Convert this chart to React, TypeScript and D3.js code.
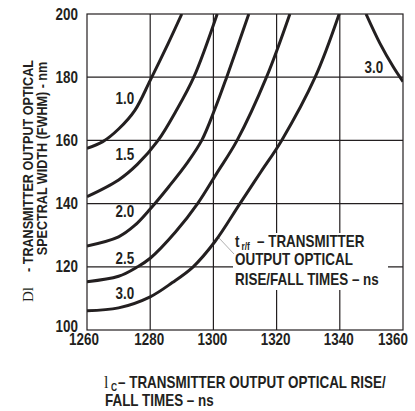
import React from "react";
import * as d3 from "d3";

// wavelength (nm) vs spectral width (nm), one array per rise/fall time
const curve10: [number, number][] = [
  [1260, 157.5], [1265, 159.6], [1270, 163.6], [1275.2, 169.6], [1280, 179], [1285.7, 190.7], [1290, 200],
];
const curve15: [number, number][] = [
  [1260, 142.2], [1270, 147.5], [1276, 152.5], [1282.5, 160], [1288, 169], [1293.8, 180], [1301.2, 200],
];
const curve20: [number, number][] = [
  [1260, 126.6], [1270, 129.5], [1275, 133], [1280, 138.3], [1286, 145.5], [1292, 153.3], [1296.3, 160], [1300.5, 170], [1304.2, 180], [1311.2, 200],
];
const curve25: [number, number][] = [
  [1260, 115.3], [1270, 117], [1276, 120], [1280, 122.7], [1288, 131], [1295, 140], [1301, 149.5], [1307.5, 160], [1316.8, 180], [1324.2, 200],
];
const curve30: [number, number][] = [
  [1260, 106.1], [1270, 107], [1280, 110.5], [1287, 115], [1293.6, 120], [1300.5, 128], [1308.4, 140], [1315, 150], [1321.6, 160], [1332.2, 180], [1339.8, 200],
];
const curve30b: [number, number][] = [
  [1348.3, 200], [1352.7, 190.7], [1356.9, 183.3], [1360, 178.6],
];

const curves = [curve10, curve15, curve20, curve25, curve30, curve30b];
const curveNames = ["1.0", "1.5", "2.0", "2.5", "3.0", "3.0"];
// label anchor points in data units
const labelX = [1272, 1272, 1272, 1272, 1272, 1350.8];
const labelY = [173.4, 155.4, 137.4, 122.7, 111.6, 183.2];

const xTicks = [1260, 1280, 1300, 1320, 1340, 1360];
const yTicks = [100, 120, 140, 160, 180, 200];

const ink = "#231f20";
const sans = "'Liberation Sans', Arial, sans-serif";
const serif = "'Liberation Serif', 'DejaVu Serif', serif";

// condensed bold text: Liberation Sans Bold squeezed horizontally
function NT(props: {
  x: number;
  y: number;
  size?: number;
  anchor?: "start" | "middle" | "end";
  rotate?: boolean;
  children: React.ReactNode;
}) {
  const { x, y, size = 16, anchor = "start", rotate = false, children } = props;
  return (
    <text
      transform={`translate(${x},${y})${rotate ? " rotate(-90)" : ""} scale(0.84,1)`}
      textAnchor={anchor}
      fontFamily={sans}
      fontWeight="bold"
      fontSize={size}
      fill={ink}
    >
      {children}
    </text>
  );
}

export default function App() {
  const width = 415;
  const height = 411;
  const x = d3.scaleLinear().domain([1260, 1360]).range([87, 403]);
  const y = d3.scaleLinear().domain([100, 200]).range([330, 14]);

  const line = d3
    .line<[number, number]>()
    .x((d) => x(d[0]))
    .y((d) => y(d[1]))
    .curve(d3.curveCatmullRom.alpha(0.5));

  const [x0, x1] = x.range();
  const [y0, y1] = y.range();

  return (
    <svg
      width={width}
      height={height}
      style={{ position: "absolute", left: 0, top: 0, background: "#fff" }}
    >
      <defs>
        <clipPath id="plot">
          <rect x={x0} y={y1} width={x1 - x0} height={y0 - y1} />
        </clipPath>
      </defs>

      {/* grid */}
      {xTicks.slice(1, -1).map((t) => (
        <line key={"gx" + t} x1={x(t)} x2={x(t)} y1={y1} y2={y0} stroke={ink} strokeWidth={1.2} />
      ))}
      {yTicks.slice(1, -1).map((t) => (
        <line key={"gy" + t} x1={x0} x2={x1} y1={y(t)} y2={y(t)} stroke={ink} strokeWidth={1.2} />
      ))}

      {/* white box behind the annotation */}
      <rect x={233} y={233} width={155} height={57} fill="#fff" />

      <rect x={x0} y={y1} width={x1 - x0} height={y0 - y1} fill="none" stroke={ink} strokeWidth={1.2} />

      {/* leader line */}
      <line x1={219} y1={238} x2={234} y2={254} stroke="#b0b0b0" strokeWidth={1} />

      <g clipPath="url(#plot)">
        {curves.map((c, i) => (
          <path key={i} d={line(c) ?? ""} fill="none" stroke={ink} strokeWidth={3} />
        ))}
      </g>

      {curveNames.map((n, i) => (
        <NT key={"l" + i} x={x(labelX[i])} y={y(labelY[i]) + 5.5} anchor="middle">
          {n}
        </NT>
      ))}

      {/* tick labels */}
      {yTicks.map((t) => (
        <NT key={"yt" + t} x={78} y={y(t) + 5.5 + (t === 100 ? -4 : 0)} anchor="end">
          {t}
        </NT>
      ))}
      {xTicks.map((t, i) => (
        <NT
          key={"xt" + t}
          x={i === xTicks.length - 1 ? x(t) + 5 : x(t) - (i === 0 ? 3 : 1)}
          y={345}
          anchor={i === xTicks.length - 1 ? "end" : "middle"}
        >
          {t}
        </NT>
      ))}

      {/* annotation */}
      <NT x={235} y={247}>t</NT>
      <NT x={241.5} y={250} size={10}>r/f</NT>
      <NT x={257} y={247}>– TRANSMITTER</NT>
      <NT x={235} y={265}>OUTPUT OPTICAL</NT>
      <NT x={235} y={285}>RISE/FALL TIMES – ns</NT>

      {/* x title */}
      <text x={104} y={388} fontFamily={serif} fontSize={16} fill={ink}>
        l
      </text>
      <NT x={111} y={391} size={10}>C</NT>
      <NT x={118} y={388}>– TRANSMITTER OUTPUT OPTICAL RISE/</NT>
      <NT x={105} y={406}>FALL TIMES – ns</NT>

      {/* y title */}
      <text transform="translate(33,302) rotate(-90)" fontFamily={serif} fontSize={15} fill={ink}>
        Dl
      </text>
      <NT x={33} y={272} size={15} rotate>
        - TRANSMITTER OUTPUT OPTICAL
      </NT>
      <NT x={47} y={158.5} size={15} anchor="middle" rotate>
        SPECTRAL WIDTH (FWHM) - nm
      </NT>
    </svg>
  );
}
